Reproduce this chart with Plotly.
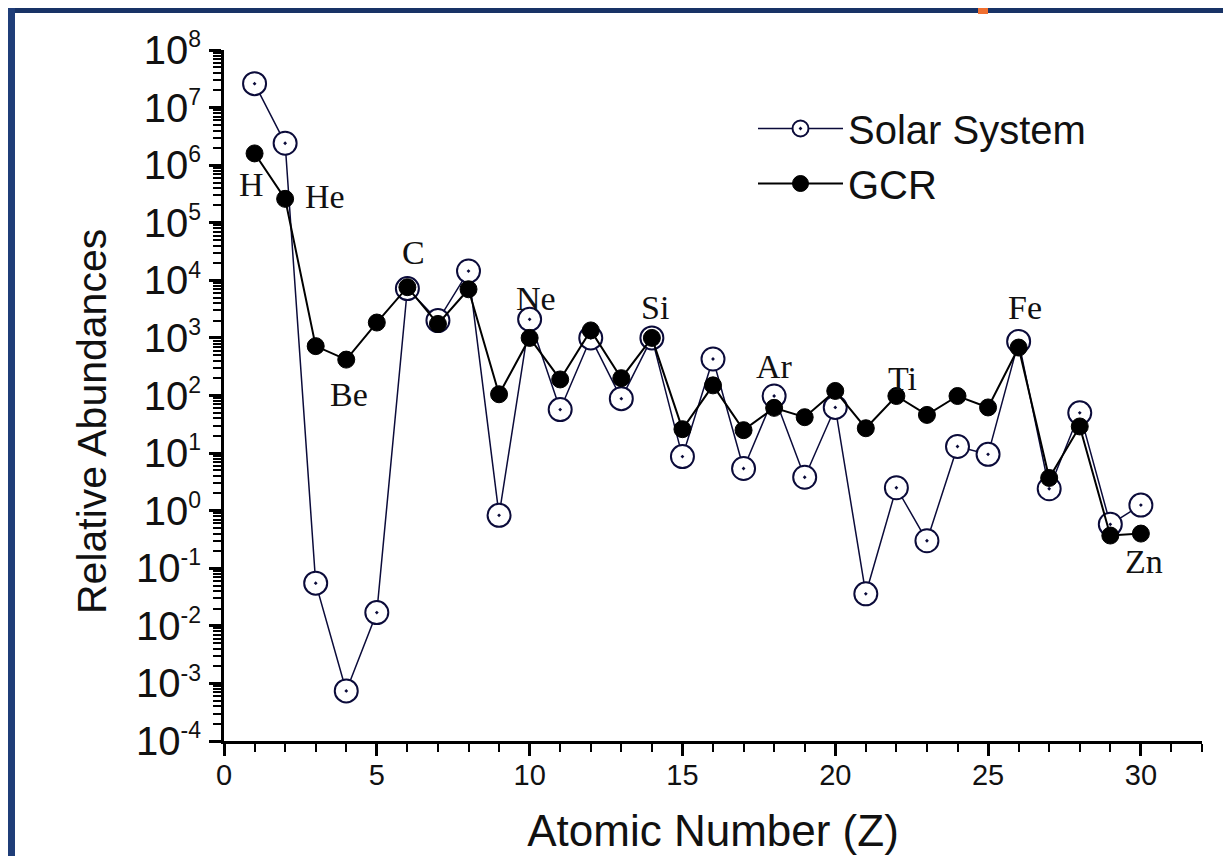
import plotly.graph_objects as go

# ---------------- data ----------------
atomic_number = list(range(1, 31))
solar_system = [2.6e7, 2.4e6, 0.055, 7.4e-4, 0.017, 7.2e3, 2.0e3, 1.45e4, 0.83, 2.1e3,
                57, 1.0e3, 88, 1.0e3, 8.7, 430, 5.4, 98, 3.8, 62,
                0.036, 2.5, 0.30, 13, 9.5, 870, 2.4, 50, 0.58, 1.25]
gcr = [1.6e6, 2.6e5, 720, 420, 1850, 7.6e3, 1.75e3, 7.0e3, 105, 1.0e3,
       190, 1.35e3, 200, 1.0e3, 26, 150, 25, 61, 42, 120,
       27, 98, 46, 98, 62, 680, 3.7, 29, 0.37, 0.40]

element_labels = ["H", "He", "Be", "C", "Ne", "Si", "Ar", "Ti", "Fe", "Zn"]
label_x = [0.9, 3.3, 4.1, 6.2, 10.2, 14.1, 18.0, 22.2, 26.2, 30.1]
label_log_y = [5.66, 5.46, 2.02, 4.48, 3.69, 3.52, 2.50, 2.30, 3.52, -0.88]

y_exponents = list(range(-4, 9))
y_tick_vals = [10.0 ** k for k in y_exponents]
y_tick_text = ["10<sup><span style='font-size:23px'>%d</span></sup>" % k for k in y_exponents]
x_tick_vals = [0, 5, 10, 15, 20, 25, 30]

W, H = 1231, 856
ML, MR, MT, MB = 216, 37, 42, 123
PW, PH = W - ML - MR, H - MT - MB


def px(xp):
    return (xp - ML) / PW


def py(yp):
    return 1 - (yp - MT) / PH


fig = go.Figure()

fig.add_trace(go.Scatter(
    x=atomic_number, y=solar_system, name="Solar System", mode="lines+markers",
    line=dict(color="#0b0b3a", width=1.5),
    marker=dict(symbol="circle-dot", size=23, color="white",
                line=dict(color="#0b0b3a", width=2)),
))
fig.add_trace(go.Scatter(
    x=atomic_number, y=gcr, name="GCR", mode="lines+markers",
    line=dict(color="black", width=2),
    marker=dict(symbol="circle", size=17, color="black",
                line=dict(color="black", width=1)),
))

for t, xv, yv in zip(element_labels, label_x, label_log_y):
    fig.add_annotation(x=xv, y=yv, xref="x", yref="y", text=t, showarrow=False,
                       font=dict(family="Liberation Serif", size=34, color="#111"))

# y-axis title (placed slightly below the plot centre, as in the reference)
fig.add_annotation(x=px(84), y=py(414), xref="paper", yref="paper",
                   text="Relative Abundances", textangle=-90, showarrow=False,
                   xanchor="center", yanchor="middle",
                   font=dict(family="Liberation Sans", size=41, color="#111"))

axis_common = dict(showgrid=False, zeroline=False, showline=True, linewidth=3,
                   linecolor="black", tickcolor="black", tickwidth=3, ticklen=12)
minor_out = dict(ticks="outside", ticklen=8, tickwidth=2, tickcolor="black")
minor_in = dict(ticks="inside", ticklen=8, tickwidth=2, tickcolor="black")

fig.update_layout(
    width=W, height=H, autosize=False,
    margin=dict(l=ML, r=MR, t=MT, b=MB, pad=0),
    paper_bgcolor="white", plot_bgcolor="white",
    font=dict(family="Liberation Sans", color="#111"),
    showlegend=True,
    legend=dict(x=px(745), y=py(88), xanchor="left", yanchor="top",
                bgcolor="rgba(0,0,0,0)", font=dict(size=40, color="#111"),
                itemwidth=85, tracegroupgap=0),
    xaxis=dict(range=[0, 32], tickmode="array", tickvals=x_tick_vals,
               ticks="outside", tickfont=dict(size=29),
               ticklabelstandoff=-6,
               minor=dict(dtick=1, tick0=0, **minor_out),
               title=dict(text="Atomic Number (Z)", font=dict(size=44), standoff=26),
               **axis_common),
    yaxis=dict(type="log", range=[-4, 8], tickmode="array", tickvals=y_tick_vals,
               ticktext=y_tick_text, ticks="outside", tickfont=dict(size=40),
               ticklabelstandoff=0,
               minor=dict(dtick="D1", **minor_out),
               **axis_common),
    xaxis2=dict(overlaying="x", side="top", anchor="y", range=[0, 32],
                tickmode="array", tickvals=x_tick_vals, ticks="inside",
                showticklabels=False,
                minor=dict(dtick=1, tick0=0, **minor_in),
                **axis_common),
    yaxis2=dict(overlaying="y", side="right", anchor="x", type="log", range=[-4, 8],
                tickmode="array", tickvals=y_tick_vals, ticks="inside",
                showticklabels=False,
                minor=dict(dtick="D1", **minor_in),
                **axis_common),
    shapes=[
        # slide background strips (blue frame around the white chart)
        dict(type="rect", xref="paper", yref="paper", x0=px(0), x1=px(W),
             y0=py(0), y1=py(5), fillcolor="#183366", line=dict(width=0), layer="below"),
        dict(type="rect", xref="paper", yref="paper", x0=px(0), x1=px(7),
             y0=py(0), y1=py(H), fillcolor="#1f3d78", line=dict(width=0), layer="below"),
        dict(type="rect", xref="paper", yref="paper", x0=px(970), x1=px(980),
             y0=py(0), y1=py(6), fillcolor="#f07030", line=dict(width=0), layer="below"),
    ],
)

fig.write_html("out.html")
